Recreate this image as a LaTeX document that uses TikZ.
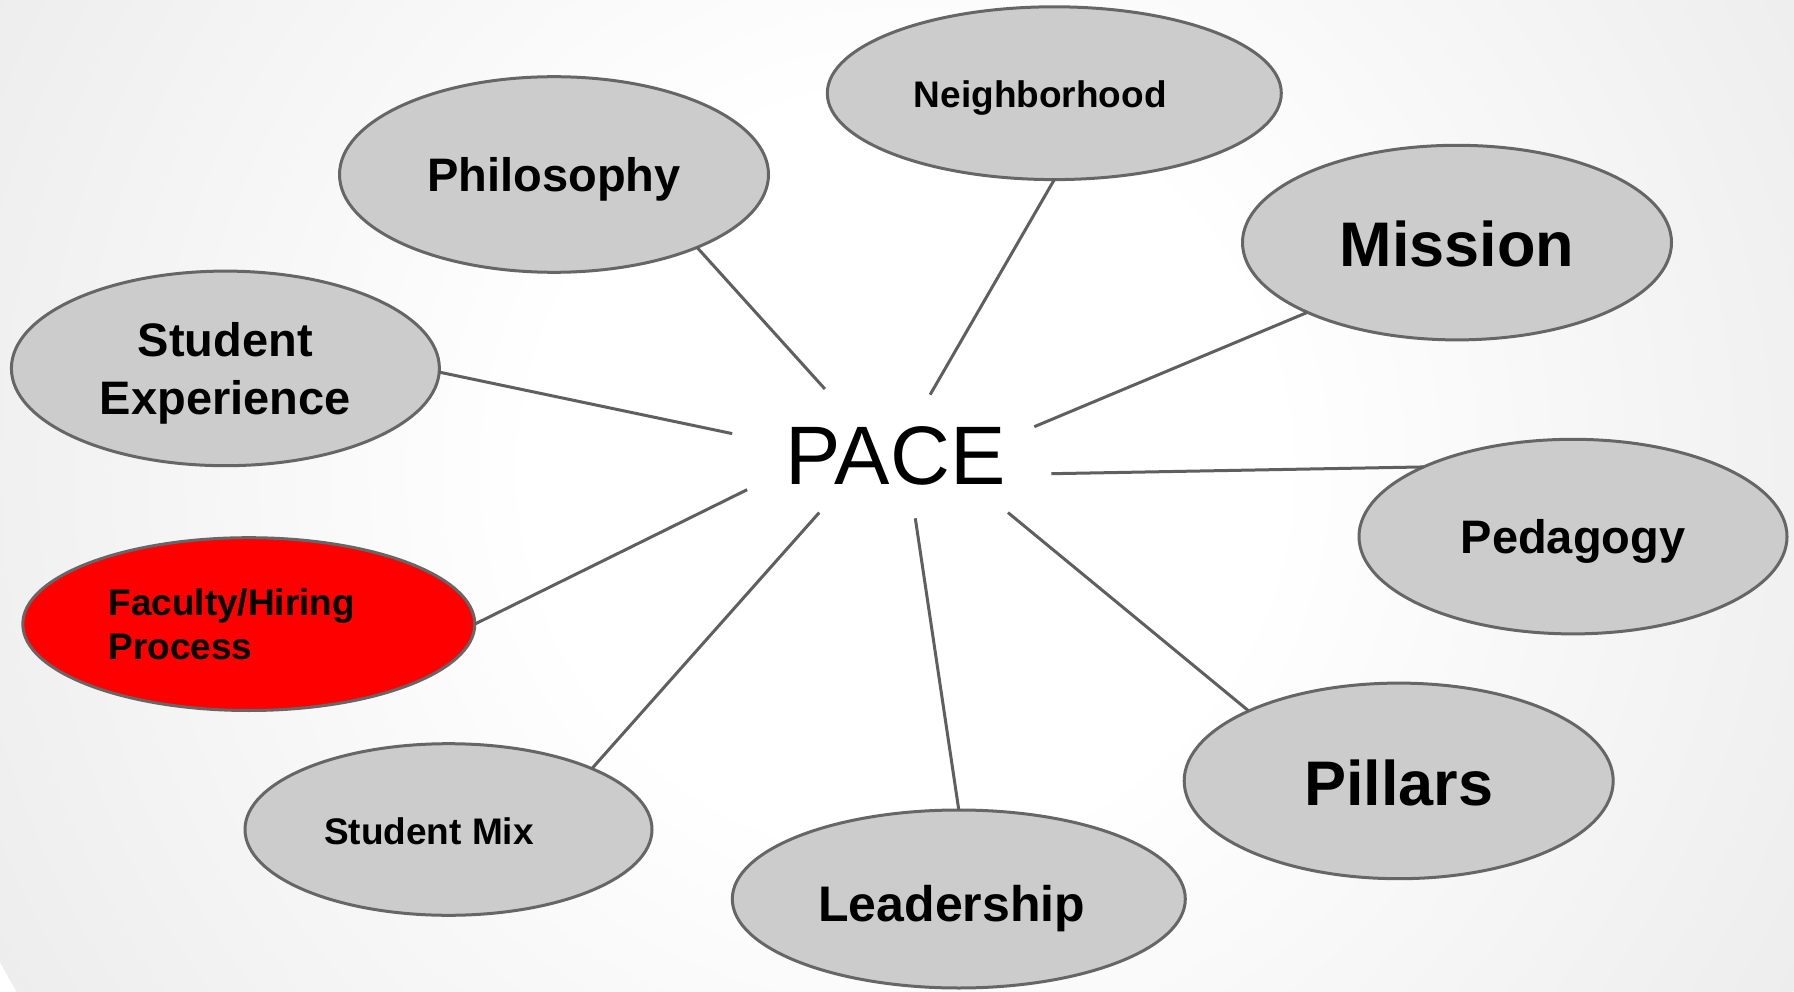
\documentclass[tikz,border=0pt]{standalone}
\usepackage{fontspec}
\setmainfont{Liberation Sans}
\usetikzlibrary{shapes.geometric}

% soft white-to-grey backdrop
\pgfdeclareradialshading{backdrop}{\pgfpoint{0bp}{0bp}}{%
  color(0bp)=(white); color(9bp)=(white); color(50bp)=(black!18)}

\definecolor{rim}{HTML}{666666}
\definecolor{spoke}{HTML}{5F5F5F}
\definecolor{bubblefill}{HTML}{CCCCCC}

\tikzset{
  bubble/.style={ellipse, draw=rim, line width=3pt, fill=bubblefill,
                 inner sep=0pt, outer sep=0pt},
  hot/.style={bubble, fill=red},
  word/.style={font=\bfseries, text=black, inner sep=0pt},
  spokeline/.style={draw=spoke, line width=3pt},
}
\newcommand{\fs}[2]{\fontsize{#1}{#2}\selectfont}

\begin{document}
\begin{tikzpicture}[x=1pt, y=-1pt]
  \useasboundingbox (0,0) rectangle (1794,992);
  \begin{scope}
    \clip (0,0) rectangle (1794,992);
    \shade[shading=backdrop] (905,470) circle [radius=1030pt];
  \end{scope}

  % central title
  \node[inner sep=0pt, font=\fs{83}{90}] (pace) at (895.5,456) {PACE};

  % inner ends of the spokes, kept clear of the title
  \coordinate (s1) at (824.9,389);
  \coordinate (s2) at (930.1,394.7);
  \coordinate (s3) at (1034.3,426.7);
  \coordinate (s4) at (732.2,433.6);
  \coordinate (s5) at (1051.4,473.7);
  \coordinate (s6) at (747.1,489.7);
  \coordinate (s7) at (819.2,512.6);
  \coordinate (s8) at (915.3,518.3);
  \coordinate (s9) at (1008,512.6);

  % topic bubbles
  \node[bubble, minimum width=429pt, minimum height=195.6pt,
        label={[word, font=\bfseries\fs{47}{56}, yshift=-5pt]center:Philosophy}]
        (phil) at (554,174.5) {};
  \node[bubble, minimum width=454pt, minimum height=172.8pt,
        label={[word, font=\bfseries\fs{37}{44}, xshift=-14pt, yshift=-5pt]center:Neighborhood}]
        (neigh) at (1054.3,93.2) {};
  \node[bubble, minimum width=429pt, minimum height=194.6pt,
        label={[word, font=\bfseries\fs{63}{74}, yshift=-1pt]center:Mission}]
        (miss) at (1457,242.6) {};
  \node[bubble, minimum width=428pt, minimum height=194.6pt,
        label={[word, font=\bfseries\fs{47}{58}, align=center, yshift=-5pt]center:Student\\Experience}]
        (stud) at (225.4,368.4) {};
  \node[bubble, minimum width=428pt, minimum height=194.6pt,
        label={[word, font=\bfseries\fs{47}{56}, yshift=-5pt]center:Pedagogy}]
        (ped) at (1573,536.6) {};
  \node[hot, minimum width=452pt, minimum height=172.8pt,
        label={[word, font=\bfseries\fs{37}{44.6}, align=left, xshift=-17pt]center:Faculty/Hiring\\Process}]
        (fac) at (248.8,624.1) {};
  \node[bubble, minimum width=407pt, minimum height=171.6pt,
        label={[word, font=\bfseries\fs{37}{44}, xshift=-19.5pt, yshift=-2pt]center:Student Mix}]
        (mix) at (448.5,829.5) {};
  \node[bubble, minimum width=453pt, minimum height=178pt,
        label={[word, font=\bfseries\fs{50}{60}, xshift=-7pt, yshift=-10pt]center:Leadership}]
        (lead) at (958.8,899) {};
  \node[bubble, minimum width=429pt, minimum height=195.6pt,
        label={[word, font=\bfseries\fs{63}{74}, yshift=-2pt]center:Pillars}]
        (pill) at (1398.7,780.9) {};

  % spokes from the title area out to each bubble rim
  \path[spokeline] (s1) -- (phil.-27);
  \path[spokeline] (s2) -- (neigh.-90);
  \path[spokeline] (s3) -- (miss.-155.5);
  \path[spokeline] (s4) -- (stud.-1.8);
  \path[spokeline] (s5) -- (ped.155.8);
  \path[spokeline] (s6) -- (fac.0);
  \path[spokeline] (s7) -- (mix.23.4);
  \path[spokeline] (s8) -- (lead.90);
  \path[spokeline] (s9) -- (pill.155.2);
\end{tikzpicture}
\end{document}
